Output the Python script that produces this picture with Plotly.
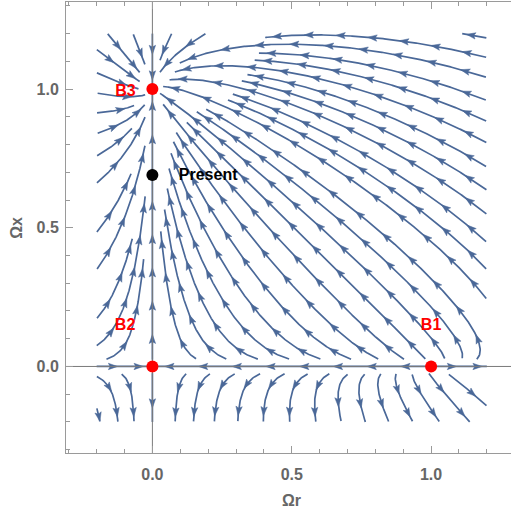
import numpy as np
import plotly.graph_objects as go

# ---------------- data ----------------
fixed_names = ["B1", "B2", "B3"]
fixed_r = [1.0, 0.0, 0.0]
fixed_x = [0.0, 0.0, 1.0]
label_r = [1.0, -0.098, -0.097]
label_x = [0.147, 0.147, 0.99]

present_name = ["Present"]
present_r = [0.0]
present_x = [0.69]
present_label_r = [0.2]
present_label_x = [0.686]

tick_vals = [0.0, 0.5, 1.0]
tick_text = ["0.0", "0.5", "1.0"]

# equation of state parameters (radiation, matter, dark energy x)
w_r, w_m, w_x = 1.0 / 3.0, 0.0, -1.0
stream_domain = [-0.2, 1.2]

STREAM = "#4a6898"


def field(r, x):
    weff = w_r * r + w_x * x
    return 3 * r * (weff - w_r), 3 * x * (weff - w_x)


def unit(p):
    u, v = field(p[0], p[1])
    n = np.hypot(u, v)
    if n < 1e-9:
        return None
    return np.array([u / n, v / n])


lo, hi = stream_domain
dsep = 0.068
dtest = 0.026
h = 0.004
cell = dsep
grid = {}
fps = np.array(list(zip(fixed_r, fixed_x)))


def key(p):
    return (int(np.floor((p[0] - lo) / cell)), int(np.floor((p[1] - lo) / cell)))


def too_close(p, d):
    kx, ky = key(p)
    for i in (kx - 1, kx, kx + 1):
        for j in (ky - 1, ky, ky + 1):
            for q in grid.get((i, j), ()):
                if (q[0] - p[0]) ** 2 + (q[1] - p[1]) ** 2 < d * d:
                    return True
    return False


def inside(p):
    return lo - 1e-9 <= p[0] <= hi + 1e-9 and lo - 1e-9 <= p[1] <= hi + 1e-9


def near_fp(p, rad=0.014):
    return np.min(np.hypot(fps[:, 0] - p[0], fps[:, 1] - p[1])) < rad


def trace(seed, sign):
    pts = [seed.copy()]
    p = seed.copy()
    for _ in range(1200):
        v1 = unit(p)
        if v1 is None:
            break
        v1 = v1 * sign
        pm = p + 0.5 * h * v1
        v2 = unit(pm)
        if v2 is None:
            break
        v2 = v2 * sign
        if np.dot(v1, v2) < 0.3:
            break
        pn = p + h * v2
        if not inside(pn):
            break
        if too_close(pn, dtest):
            break
        if near_fp(pn):
            break
        pts.append(pn)
        p = pn
    return pts


lines = []


def try_seed(seed):
    seed = np.array(seed, dtype=float)
    if not inside(seed) or too_close(seed, dsep * 0.95) or near_fp(seed, 0.03):
        return None
    f = trace(seed, 1.0)
    b = trace(seed, -1.0)
    pts = np.array(b[::-1][:-1] + f)
    if len(pts) < 2:
        return None
    L = np.sum(np.hypot(np.diff(pts[:, 0]), np.diff(pts[:, 1])))
    if L < 0.045:
        return None
    for q in pts:
        grid.setdefault(key(q), []).append(q)
    lines.append(pts)
    return pts


def expand(start):
    queue = []
    res = try_seed(start)
    if res is not None:
        queue.append(res)
    while queue:
        pts = queue.pop(0)
        for k in range(0, len(pts), 4):
            q = pts[k]
            j = min(k + 1, len(pts) - 1)
            i0 = max(k - 1, 0)
            t = pts[j] - pts[i0]
            n = np.hypot(t[0], t[1])
            if n == 0:
                continue
            perp = np.array([-t[1], t[0]]) / n
            for s in (1, -1):
                r2 = try_seed(q + s * dsep * perp)
                if r2 is not None:
                    queue.append(r2)


# invariant lines first
for s in [(0.5, 0.0), (0.0, 0.5), (1.1, 0.0), (-0.1, 0.0), (0.0, -0.1), (0.0, 1.1)]:
    try_seed(s)
expand((0.55, 0.55))
gs = np.arange(lo + 0.01, hi, dsep / 2)
for a in gs:
    for b in gs:
        expand((a, b))

# ---------------- build traces ----------------
lx, ly = [], []
ax_, ay_ = [], []
al = 0.033
hw = 0.0115
spacing = 0.12
for pts in lines:
    lx += list(pts[:, 0]) + [None]
    ly += list(pts[:, 1]) + [None]
    seg = np.hypot(np.diff(pts[:, 0]), np.diff(pts[:, 1]))
    cum = np.concatenate([[0], np.cumsum(seg)])
    L = cum[-1]
    n = max(1, int(L / spacing + 0.5))
    for i in range(n):
        s = L * (i + 0.6) / n
        s = min(s, L - al * 0.6)
        s = max(s, al * 0.4)
        idx = np.searchsorted(cum, s)
        idx = min(max(idx, 1), len(pts) - 1)
        fr = (s - cum[idx - 1]) / max(seg[idx - 1], 1e-12)
        c = pts[idx - 1] + fr * (pts[idx] - pts[idx - 1])
        a0 = max(idx - 3, 0)
        a1 = min(idx + 2, len(pts) - 1)
        d = pts[a1] - pts[a0]
        dn = np.hypot(d[0], d[1])
        if dn == 0:
            continue
        d = d / dn
        pp = np.array([-d[1], d[0]])
        tip = c + 0.6 * al * d
        bl = c - 0.4 * al * d + hw * pp
        br = c - 0.4 * al * d - hw * pp
        notch = c - 0.2 * al * d
        for q in (tip, bl, notch, br, tip):
            ax_.append(q[0])
            ay_.append(q[1])
        ax_.append(None)
        ay_.append(None)

xr = [-0.31, 1.2867]
yr = [-0.312, 1.314]

fig = go.Figure()
fig.add_trace(go.Scatter(x=lx, y=ly, mode="lines",
                         line=dict(color=STREAM, width=1.7),
                         hoverinfo="skip", showlegend=False))
fig.add_trace(go.Scatter(x=ax_, y=ay_, mode="lines", fill="toself",
                         fillcolor=STREAM, line=dict(color=STREAM, width=0.5),
                         hoverinfo="skip", showlegend=False))
# axis lines through the origin
fig.add_trace(go.Scatter(x=[xr[0], xr[1], None, 0, 0], y=[0, 0, None, yr[0], yr[1]],
                         mode="lines", line=dict(color="#7a7a7a", width=1),
                         hoverinfo="skip", showlegend=False))
fig.add_trace(go.Scatter(x=fixed_r, y=fixed_x, mode="markers",
                         marker=dict(color="#ff0000", size=12),
                         showlegend=False))
fig.add_trace(go.Scatter(x=present_r, y=present_x, mode="markers",
                         marker=dict(color="#000000", size=12),
                         showlegend=False))
fig.add_trace(go.Scatter(x=label_r, y=label_x, mode="text", text=fixed_names,
                         textfont=dict(color="#ff0000", size=16,
                                       family="Liberation Sans", weight="bold"),
                         showlegend=False))
fig.add_trace(go.Scatter(x=present_label_r, y=present_label_x, mode="text",
                         text=present_name,
                         textfont=dict(color="#000000", size=16,
                                       family="Liberation Sans", weight="bold"),
                         showlegend=False))

axcommon = dict(showgrid=False, zeroline=False, showline=True,
                linecolor="#9a9a9a", linewidth=1,
                ticks="inside", ticklen=7, tickcolor="#9a9a9a", tickwidth=1,
                tickvals=tick_vals, ticktext=tick_text,
                tickfont=dict(color="#666666", size=16,
                              family="Liberation Sans", weight="bold"),
                minor=dict(ticks="inside", ticklen=4, tickcolor="#9a9a9a",
                           dtick=0.1, tick0=0.0, showgrid=False))
fig.update_xaxes(range=xr, mirror="ticks", ticklabelstandoff=7, **axcommon)
fig.update_yaxes(range=yr, mirror=False, ticklabelstandoff=3, **axcommon)

fig.add_annotation(text="Ωr", x=0.5, xref="x", y=0, yref="paper", yshift=-47,
                   showarrow=False, yanchor="middle",
                   font=dict(color="#666666", size=16, family="Liberation Sans",
                             weight="bold"))
fig.add_annotation(text="Ωx", x=0, xref="paper", y=0.5, yref="y", xshift=-49,
                   showarrow=False, textangle=-90, xanchor="center",
                   font=dict(color="#666666", size=16, family="Liberation Sans",
                             weight="bold"))

fig.update_layout(width=511, height=516,
                  margin=dict(l=66, r=0, t=2, b=63),
                  plot_bgcolor="white", paper_bgcolor="white")
fig.write_html("out.html")
